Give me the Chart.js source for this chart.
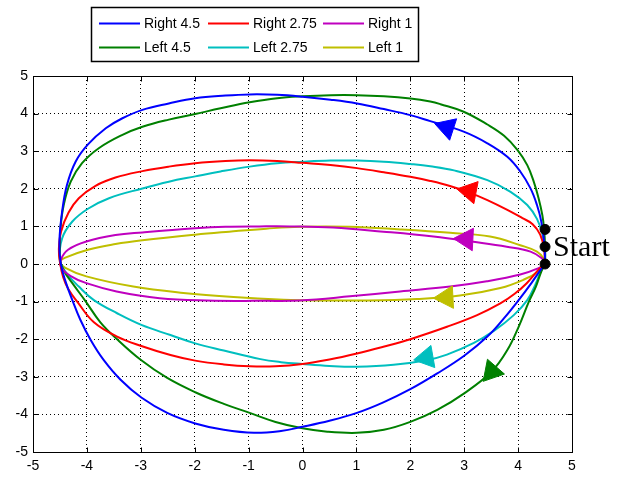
<!DOCTYPE html>
<html>
<head>
<meta charset="utf-8">
<script src="https://cdn.jsdelivr.net/npm/chart.js@4.4.1/dist/chart.umd.min.js"></script>
<style>
  html, body { margin: 0; padding: 0; background: #fff; }
  #chart { display: block; }
</style>
</head>
<body>
<canvas id="chart" width="624" height="477"></canvas>
<script>
// tick values on both axes
var xTicks = [-5, -4, -3, -2, -1, 0, 1, 2, 3, 4, 5];
var yTicks = [-5, -4, -3, -2, -1, 0, 1, 2, 3, 4, 5];

// curves as [x, y] in the order they are travelled
var right45 = [[4.5,0],[4.49,0.5],[4.43,1.13],[4.35,1.57],[4.23,2.01],[4.04,2.46],[3.8,2.85],[3.43,3.21],[2.99,3.52],[2.37,3.8],[2.0,3.96],[1.51,4.12],[1.01,4.27],[0.52,4.37],[0,4.45],[-0.47,4.5],[-0.98,4.51],[-1.43,4.48],[-1.99,4.41],[-2.48,4.27],[-2.97,4.1],[-3.35,3.87],[-3.65,3.61],[-3.98,3.18],[-4.21,2.72],[-4.37,2.1],[-4.46,1.39],[-4.51,0.6],[-4.49,0.05],[-4.4,-0.45],[-4.27,-0.96],[-4.12,-1.49],[-3.93,-2.02],[-3.69,-2.55],[-3.38,-3.07],[-2.99,-3.55],[-2.51,-3.96],[-1.99,-4.24],[-1.46,-4.41],[-0.9,-4.49],[-0.4,-4.44],[0,-4.33],[0.5,-4.17],[1.01,-3.96],[1.5,-3.68],[2.0,-3.33],[2.5,-2.91],[3.0,-2.44],[3.43,-1.93],[3.74,-1.44],[4.01,-0.96],[4.25,-0.5],[4.42,-0.15],[4.5,0]];
var right275 = [[4.5,0],[4.48,0.4],[4.41,0.78],[4.27,1.06],[4.08,1.22],[3.8,1.44],[3.43,1.7],[3.1,1.9],[2.75,2.07],[2.37,2.21],[2.0,2.32],[1.51,2.44],[1.01,2.55],[0.52,2.63],[0,2.69],[-0.47,2.74],[-0.98,2.76],[-1.43,2.74],[-1.99,2.68],[-2.48,2.59],[-2.97,2.47],[-3.47,2.3],[-3.84,2.08],[-4.15,1.75],[-4.34,1.37],[-4.48,0.86],[-4.52,0.4],[-4.5,0.05],[-4.44,-0.35],[-4.34,-0.68],[-4.17,-1.02],[-3.87,-1.55],[-3.44,-1.93],[-2.99,-2.18],[-2.45,-2.42],[-1.99,-2.57],[-1.46,-2.67],[-0.98,-2.72],[-0.5,-2.72],[0,-2.66],[0.5,-2.54],[1.01,-2.38],[1.5,-2.2],[2.0,-2.0],[2.68,-1.67],[3.24,-1.36],[3.67,-1.05],[3.93,-0.8],[4.16,-0.51],[4.38,-0.15],[4.5,0]];
var right1 = [[4.5,0],[4.44,0.15],[4.23,0.33],[3.79,0.46],[3.17,0.59],[2.43,0.73],[1.5,0.86],[0.57,0.97],[-0.24,1.0],[-0.8,1.0],[-1.43,0.99],[-1.99,0.95],[-2.97,0.84],[-3.47,0.77],[-4.01,0.6],[-4.35,0.38],[-4.48,0.12],[-4.47,-0.1],[-4.3,-0.32],[-4.01,-0.51],[-3.45,-0.73],[-2.65,-0.91],[-1.78,-0.97],[-0.66,-0.98],[-0.05,-0.97],[0.88,-0.86],[1.81,-0.73],[2.74,-0.6],[3.42,-0.46],[4.04,-0.28],[4.38,-0.11],[4.5,0]];
var left45 = [[4.5,0],[4.43,-0.2],[4.33,-0.6],[4.2,-1.0],[4.01,-1.67],[3.8,-2.29],[3.51,-2.86],[3.0,-3.44],[2.5,-3.88],[2.0,-4.2],[1.51,-4.41],[1.01,-4.49],[0.46,-4.46],[0,-4.37],[-0.5,-4.2],[-0.98,-3.96],[-1.46,-3.72],[-1.99,-3.41],[-2.51,-3.03],[-2.99,-2.56],[-3.44,-2.0],[-3.75,-1.55],[-4.03,-0.98],[-4.25,-0.55],[-4.42,-0.2],[-4.5,0.1],[-4.5,0.5],[-4.49,0.95],[-4.43,1.57],[-4.3,2.19],[-4.09,2.68],[-3.78,3.08],[-3.35,3.43],[-2.97,3.65],[-2.48,3.84],[-1.99,3.99],[-1.52,4.14],[-0.98,4.3],[-0.47,4.41],[0,4.46],[0.52,4.49],[1.01,4.49],[1.51,4.46],[2.0,4.4],[2.37,4.32],[2.56,4.25],[2.99,4.05],[3.43,3.71],[3.74,3.41],[3.99,3.03],[4.17,2.63],[4.29,2.19],[4.38,1.75],[4.45,1.3],[4.48,0.95],[4.5,0.5],[4.5,0]];
var left275 = [[4.5,0],[4.42,-0.2],[4.32,-0.55],[4.17,-0.96],[3.92,-1.36],[3.55,-1.78],[3.18,-2.1],[2.68,-2.41],[2.3,-2.56],[1.69,-2.68],[1.01,-2.73],[0.5,-2.71],[0,-2.66],[-0.4,-2.61],[-0.78,-2.53],[-1.46,-2.3],[-1.99,-2.11],[-2.45,-1.89],[-2.99,-1.62],[-3.44,-1.31],[-3.87,-0.96],[-4.15,-0.6],[-4.38,-0.24],[-4.5,0.1],[-4.46,0.68],[-4.27,1.13],[-3.98,1.47],[-3.59,1.75],[-2.97,2.01],[-2.48,2.19],[-1.99,2.33],[-1.52,2.46],[-0.98,2.59],[-0.47,2.68],[0,2.72],[0.52,2.75],[1.01,2.75],[1.51,2.72],[2.0,2.66],[2.37,2.6],[2.81,2.49],[3.43,2.23],[3.86,1.92],[4.17,1.57],[4.35,1.2],[4.45,0.8],[4.5,0.35],[4.5,0]];
var left1 = [[4.5,0],[4.38,-0.2],[4.1,-0.42],[3.67,-0.64],[2.92,-0.84],[2.12,-0.93],[1.19,-0.97],[0.33,-0.97],[-0.35,-0.95],[-1.28,-0.88],[-2.21,-0.77],[-3.14,-0.6],[-4.01,-0.33],[-4.4,-0.1],[-4.5,0.05],[-4.4,0.17],[-3.98,0.38],[-3.47,0.53],[-2.97,0.63],[-1.99,0.78],[-1.36,0.86],[-0.67,0.94],[-0.05,0.99],[0.88,0.99],[1.81,0.92],[2.74,0.83],[3.48,0.73],[4.04,0.5],[4.35,0.33],[4.47,0.15],[4.5,0]];

var seriesNames = ['Right 4.5', 'Right 2.75', 'Right 1', 'Left 4.5', 'Left 2.75', 'Left 1'];
var seriesColors = ['#0000ff', '#ff0000', '#bf00bf', '#008000', '#00bfbf', '#bfbf00'];
var seriesPoints = [right45, right275, right1, left45, left275, left1];

// arrow heads: where they sit, and which way they point (degrees)
var arrowX = [2.68, 3.10, 3.04, 3.51, 2.30, 2.67];
var arrowY = [3.63, 1.93, 0.66, -2.86, -2.49, -0.89];
var arrowTurn = [-72, -79, -87, -139, -100, -93];

var startPoints = [[4.5, 0.92], [4.5, 0.46], [4.5, 0]];
var startText = 'Start';

var textFont = "'Liberation Sans', Arial, sans-serif";

function toXY(list) {
  return list.map(function(p) { return { x: p[0], y: p[1] }; });
}

var datasets = seriesPoints.map(function(pts, i) {
  return {
    label: seriesNames[i],
    data: toXY(pts),
    showLine: true,
    borderColor: seriesColors[i],
    backgroundColor: seriesColors[i],
    borderWidth: 2,
    pointRadius: 0,
    tension: 0.4,
    fill: false
  };
});

datasets.push({
  label: 'arrows',
  data: arrowX.map(function(x, i) { return { x: x, y: arrowY[i] }; }),
  showLine: false,
  pointStyle: 'triangle',
  pointRadius: 13,
  pointRotation: arrowTurn,
  pointBackgroundColor: seriesColors,
  pointBorderColor: seriesColors,
  pointBorderWidth: 1,
  order: -1
});

datasets.push({
  label: 'start',
  data: toXY(startPoints),
  showLine: false,
  pointRadius: 5,
  pointBackgroundColor: '#000',
  pointBorderColor: '#000',
  order: -2
});

var framePlugin = {
  id: 'frame',
  afterDraw: function(chart) {
    var a = chart.chartArea, ctx = chart.ctx;
    var xs = chart.scales.x, ys = chart.scales.y;
    ctx.save();
    ctx.strokeStyle = '#000';
    ctx.lineWidth = 1;
    var l = Math.round(a.left) + 0.5, r = Math.round(a.right) + 0.5;
    var t = Math.round(a.top) + 0.5, b = Math.round(a.bottom) + 0.5;
    ctx.strokeRect(l, t, r - l, b - t);
    ctx.beginPath();
    xTicks.forEach(function(v) {
      var p = Math.round(xs.getPixelForValue(v)) + 0.5;
      ctx.moveTo(p, b); ctx.lineTo(p, b - 5);
      ctx.moveTo(p, t); ctx.lineTo(p, t + 5);
    });
    yTicks.forEach(function(v) {
      var p = Math.round(ys.getPixelForValue(v)) + 0.5;
      ctx.moveTo(l, p); ctx.lineTo(l + 5, p);
      ctx.moveTo(r, p); ctx.lineTo(r - 5, p);
    });
    ctx.stroke();

    // "Start" next to the middle start point
    var sx = xs.getPixelForValue(startPoints[1][0]);
    var sy = ys.getPixelForValue(startPoints[1][1]);
    ctx.fillStyle = '#000';
    ctx.font = "30px 'Liberation Serif', 'Times New Roman', serif";
    ctx.textBaseline = 'alphabetic';
    ctx.textAlign = 'left';
    ctx.fillText(startText, sx + 8, sy + 9);
    ctx.restore();
  }
};

var legendPlugin = {
  id: 'boxLegend',
  afterDraw: function(chart) {
    var ctx = chart.ctx;
    var cols = [99, 208, 323];
    var rows = [23, 47];
    ctx.save();
    ctx.fillStyle = '#fff';
    ctx.fillRect(91, 7, 327, 54);
    ctx.strokeStyle = '#000';
    ctx.lineWidth = 1.5;
    ctx.strokeRect(91.5, 7.5, 327, 54);
    ctx.font = '14px ' + textFont;
    ctx.textBaseline = 'middle';
    ctx.textAlign = 'left';
    for (var i = 0; i < seriesNames.length; i++) {
      var x0 = cols[i % 3], y = rows[Math.floor(i / 3)];
      ctx.strokeStyle = seriesColors[i];
      ctx.lineWidth = 2;
      ctx.beginPath();
      ctx.moveTo(x0, y + 0.5);
      ctx.lineTo(x0 + 41, y + 0.5);
      ctx.stroke();
      ctx.fillStyle = '#000';
      ctx.fillText(seriesNames[i], x0 + 45, y + 1);
    }
    ctx.restore();
  }
};

new Chart(document.getElementById('chart'), {
  type: 'scatter',
  data: { datasets: datasets },
  plugins: [framePlugin, legendPlugin],
  options: {
    responsive: false,
    animation: false,
    layout: { padding: { top: 76, right: 52, left: 0, bottom: 0 } },
    plugins: {
      legend: { display: false },
      tooltip: { enabled: false }
    },
    scales: {
      x: {
        type: 'linear',
        min: -5,
        max: 5,
        afterFit: function(s) { s.height = 25; },
        ticks: { stepSize: 1, color: '#000', padding: 6, font: { family: textFont, size: 14 } },
        grid: { color: '#000', lineWidth: 1, drawTicks: false },
        border: { display: true, color: '#000', width: 1, dash: [1, 3] }
      },
      y: {
        type: 'linear',
        min: -5,
        max: 5,
        afterFit: function(s) { s.width = 33; },
        ticks: { stepSize: 1, color: '#000', padding: 5, font: { family: textFont, size: 14 } },
        grid: { color: '#000', lineWidth: 1, drawTicks: false },
        border: { display: true, color: '#000', width: 1, dash: [1, 3] }
      }
    }
  }
});
</script>
</body>
</html>
